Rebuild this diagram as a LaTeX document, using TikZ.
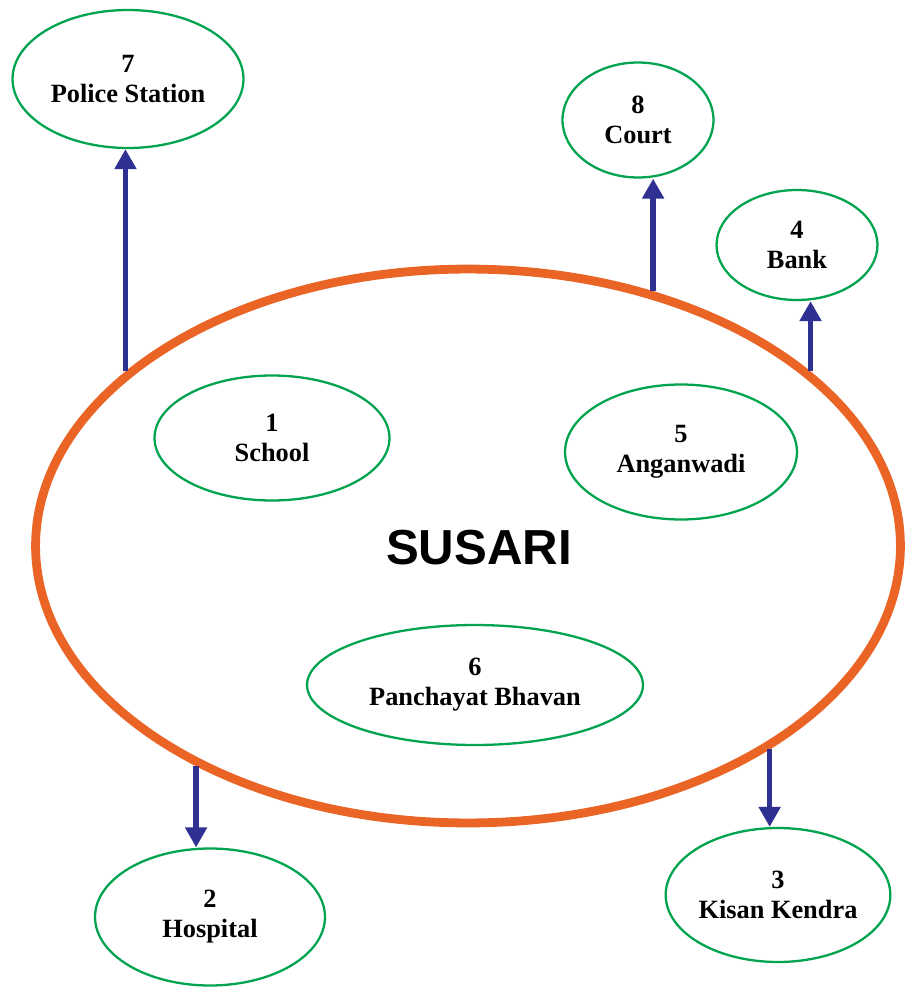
\documentclass[tikz,border=0pt]{standalone}
\usepackage{fontspec}
\setmainfont{Liberation Serif}
\newfontfamily\headfont{Liberation Sans}
\usetikzlibrary{shapes.geometric,arrows.meta}
\definecolor{placegreen}{RGB}{0,163,78}
\definecolor{villageorange}{RGB}{234,100,38}
\definecolor{linkblue}{RGB}{46,49,146}
\begin{document}
\begin{tikzpicture}
[
x=0.02cm,y=-0.02cm,
place/.style={ellipse,draw=placegreen,line width=1.3pt,fill=white,
  align=center,inner sep=0pt,font=\bfseries\fontsize{15}{17}\selectfont},
village/.style={ellipse,draw=villageorange,line width=5pt,inner sep=0pt,
  minimum width=17.3cm,minimum height=11.08cm},
link/.style={draw=linkblue,line width=3pt,
  -{Triangle[length=0.4cm,width=0.42cm]}}
]
\useasboundingbox (0,0) rectangle (904,993);

\node[village] (big) at (468,546) {};
\node[font=\headfont\bfseries\fontsize{28}{30}\selectfont] (susari) at (479,548) {SUSARI};

\foreach \n/\x/\y/\w/\h/\t in {
  pol/128/79/4.62/2.76/{7\\Police Station},
  court/638/120/3.02/2.3/{8\\Court},
  bank/797/245/3.22/2.2/{4\\Bank},
  school/272/438/4.7/2.5/{1\\School},
  angan/681/452/4.64/2.7/{5\\Anganwadi},
  panch/475/685/6.72/2.4/{6\\Panchayat Bhavan},
  hosp/210/917/4.6/2.74/{2\\Hospital},
  kisan/778/895/4.46/2.68/{3\\Kisan Kendra}} {
  \node[place,minimum width=\w cm,minimum height=\h cm] (\n) at (\x,\y) {\t};
}

\draw[link] (big.153) -- (big.153 |- pol.south);
\draw[link] (big.54) -- (big.54 |- court.south);
\draw[link] (big.27) -- (big.27 |- bank.south);
\draw[link] (big.219) -- (big.219 |- hosp.north);
\draw[link] (big.326) -- (big.326 |- kisan.north);

\end{tikzpicture}
\end{document}
